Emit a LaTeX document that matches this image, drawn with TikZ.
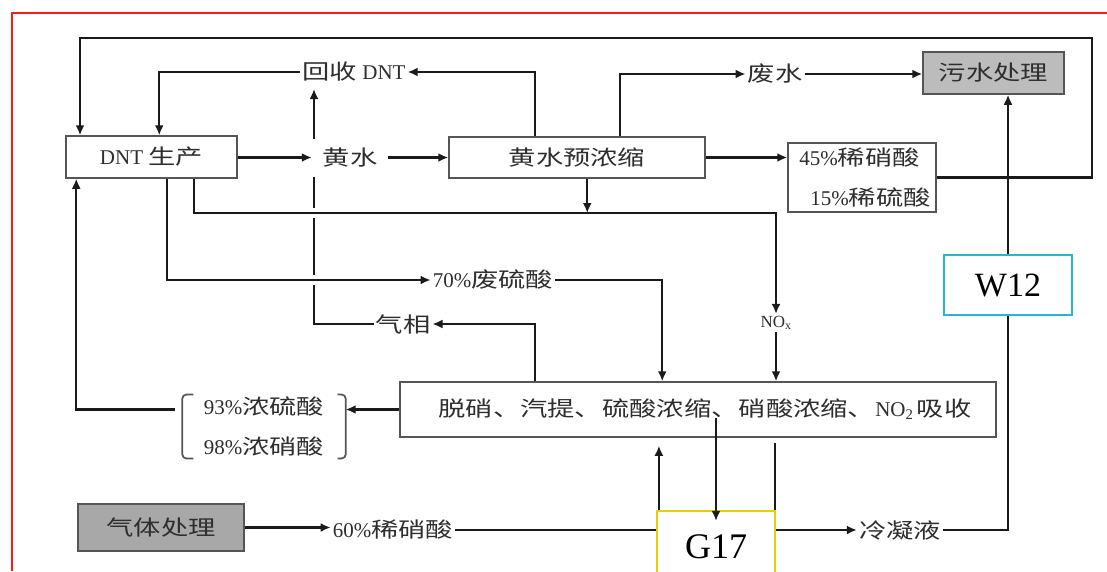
\documentclass[tikz,border=0pt]{standalone}
\usepackage{fontspec}
\usepackage{graphicx}
\setmainfont{Liberation Serif}
\newfontfamily\cjk{Noto Sans CJK SC}
\usetikzlibrary{arrows.meta,calc}
\newcommand\zh[1]{{\cjk\scalebox{1.3}[1]{#1}}}
\definecolor{txt}{HTML}{2E2E2E}
\definecolor{linec}{HTML}{1A1A1A}
\definecolor{boxc}{HTML}{555555}
\definecolor{grayA}{HTML}{BCBCBC}
\definecolor{grayB}{HTML}{A8A8A8}
\definecolor{cyanc}{HTML}{29B6CC}
\definecolor{yelc}{HTML}{E8D000}
\definecolor{redc}{HTML}{FF1A1A}
\begin{document}
\begin{tikzpicture}[x=1pt,y=-1pt,
  fsz/.style={font=\fontsize{21}{25}\selectfont},
  lbl/.style={fsz, text=txt, inner sep=2pt},
  boxn/.style={lbl, draw=boxc, line width=1.5pt, inner sep=0pt},
  con/.style={draw=linec, line width=2.2pt},
  arr/.style={con, -{Latex[length=10pt,width=9pt]}},
  halo/.style={preaction={draw=white, line width=10pt, -}},
  brk/.style={draw=boxc, line width=1.7pt, rounded corners=4pt}
]
\useasboundingbox (0,0) rectangle (1107,571);
\fill[white] (0,0) rectangle (1107,571);
\draw[redc, line width=2.5pt] (12,571) -- (12,13) -- (1107,13);

% labels needed before the vertical line
\node[lbl] (qx) at (403,324) {\zh{气相}};
\node[lbl] (hsdnt) at (354,72) {\zh{回收} DNT};
\coordinate (up) at (314,89);
\draw[arr] (qx.west) -| (up);

% boxes and labels
\node[boxn, minimum width=171pt, minimum height=42pt] (dnt) at (151.5,157) {DNT \zh{生产}};
\node[lbl, fill=white, minimum width=76pt, minimum height=38pt] (hs) at (350,157.5) {\zh{黄水}};
\node[boxn, minimum width=256pt, minimum height=41pt] (yszs) at (577,157.5) {\zh{黄水预浓缩}};
\node[lbl] (fs) at (775,74) {\zh{废水}};
\node[boxn, fill=grayA, minimum width=141pt, minimum height=42pt] (wscl) at (993.5,73) {\zh{污水处理}};
\node[boxn, minimum width=148pt, minimum height=69pt, align=left] (xxs) at (862,177.5)
  {\hspace*{6pt}45\%\zh{稀硝酸}\\[15pt]\hspace*{17pt}15\%\zh{稀硫酸}};
\node[lbl] (fls) at (493,280) {70\%\zh{废硫酸}};
\node[lbl, font=\fontsize{17}{20}\selectfont] (nox) at (776,323) {NO\textsubscript{x}};
\node[boxn, minimum width=596pt, minimum height=55pt] (main) at (698,409.5)
  {\hspace*{14pt}\zh{脱硝、汽提、硫酸浓缩、硝酸浓缩、}NO\textsubscript{2}\,\zh{吸收}};
\node[lbl, minimum width=163pt, minimum height=57pt, align=center] (acid) at (264,426.5)
  {93\%\zh{浓硫酸}\\[15pt]98\%\zh{浓硝酸}};
\draw[brk] ([xshift=11pt]acid.north west) -- (acid.north west) -- (acid.south west) -- ([xshift=11pt]acid.south west);
\draw[brk] ([xshift=-8pt]acid.north east) -- (acid.north east) -- (acid.south east) -- ([xshift=-8pt]acid.south east);
\node[boxn, draw=cyanc, line width=2.2pt, fill=white, minimum width=128pt, minimum height=60pt,
  font=\fontsize{34}{40}\selectfont, text=black] (w12) at (1008,285) {W12};
\node[boxn, fill=grayB, minimum width=166pt, minimum height=47pt] (qtcl) at (161,527.5) {\zh{气体处理}};
\node[lbl] (xxs60) at (393,530) {60\%\zh{稀硝酸}};
\node[boxn, draw=yelc, line width=2.2pt, fill=white, minimum width=118pt, minimum height=72pt,
  font=\fontsize{36}{42}\selectfont, text=black] (g17) at (716,547) {G17};
\node[lbl] (lnq) at (900,530) {\zh{冷凝液}};

% connectors
\coordinate (tl) at (80,38);
\coordinate (tr) at (1092,38);
\coordinate (h213) at (0,213);
\draw[arr] (xxs.east) -| (tr) -- (tl) -- (tl |- dnt.north);
\draw[arr] (hsdnt.west) -| ([xshift=94pt]dnt.north west);
\draw[arr] ([xshift=87pt]yszs.north west) |- (hsdnt.east);
\draw[arr] ([xshift=172pt]yszs.north west) |- (fs.west);
\draw[arr] (fs.east) -- (fs.east -| wscl.west);
\draw[arr] (dnt.east |- hs.west) -- (hs.west);
\draw[arr] (hs.east) -- (yszs.west);
\draw[arr] (yszs.east) -- (yszs.east -| xxs.west);
\draw[arr, halo] ([xshift=129pt]dnt.south west) |- (nox.north |- h213) -- (nox.north);
\draw[arr, halo] ([xshift=102pt]dnt.south west) |- (fls.west);
\draw[arr] ([xshift=139pt]yszs.south west) -- ([xshift=139pt]yszs.south west |- h213);
\draw[arr] (nox.south) -- (nox.south |- main.north);
\draw[arr] (fls.east) -| ([xshift=263pt]main.north west);
\draw[arr] ([xshift=136pt]main.north west) |- (qx.east);
\draw[arr] (main.west) -- (main.west -| acid.east);
\draw[arr] ([xshift=-7pt]main.west -| acid.west) -| ([xshift=11pt]dnt.south west);
\draw[arr] (qtcl.east) -- (qtcl.east -| xxs60.west);
\draw[con] (xxs60.east) -- (xxs60.east -| g17.west);
\draw[arr] ([yshift=-8pt]main.center -| g17.north) -- ([yshift=-11pt]g17.north);
\draw[arr] ([xshift=3pt]g17.north west) -- ($(g17.north west |- main.south)+(3,8)$);
\draw[con] ([xshift=-1pt]g17.north east) -- ($(g17.north east |- main.south)+(-1,5)$);
\draw[arr] (lnq.west -| g17.east) -- (lnq.west);
\draw[con] (lnq.east) -| (w12.south);
\draw[arr] (w12.north) -- (w12.north |- wscl.south);
\end{tikzpicture}
\end{document}
